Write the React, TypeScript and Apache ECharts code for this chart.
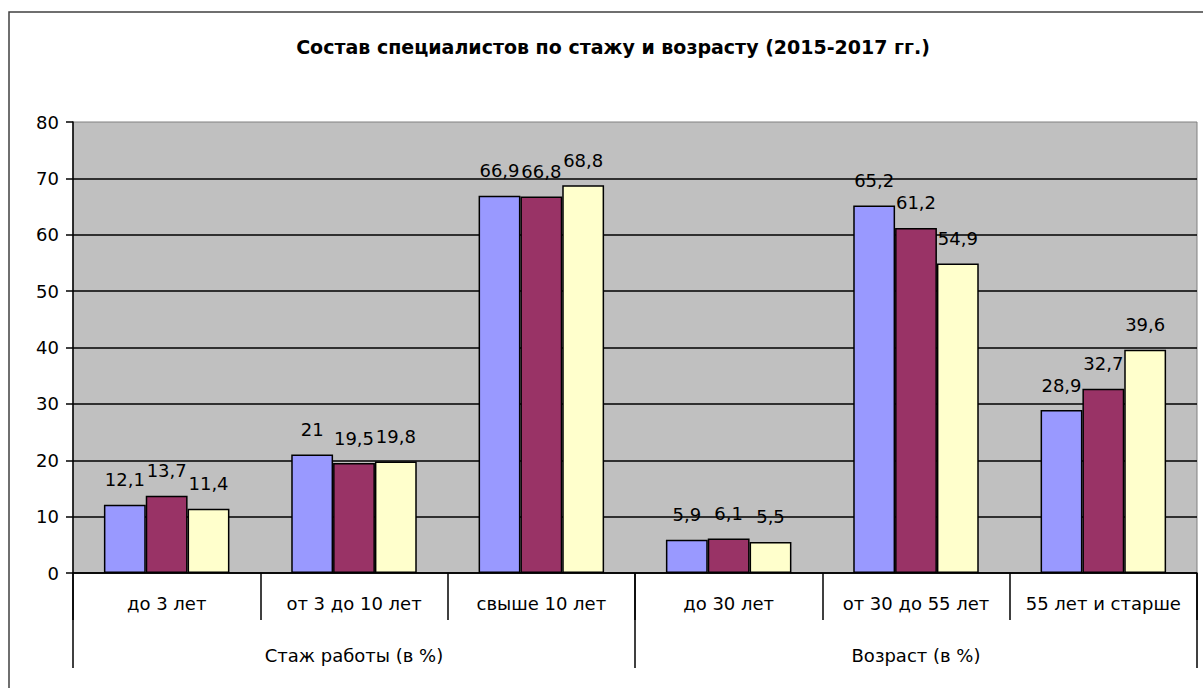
import React, { useEffect, useRef } from "react";
import * as echarts from "echarts";

const categories = ["до 3 лет", "от 3 до 10 лет", "свыше 10 лет", "до 30 лет", "от 30 до 55 лет", "55 лет и старше"];
const groups = ["Стаж работы (в %)", "Возраст (в %)"];
const seriesNames = ["2015", "2016", "2017"];
const values2015 = [12.1, 21, 66.9, 5.9, 65.2, 28.9];
const values2016 = [13.7, 19.5, 66.8, 6.1, 61.2, 32.7];
const values2017 = [11.4, 19.8, 68.8, 5.5, 54.9, 39.6];
const colors = ["#9999FF", "#993366", "#FFFFCC"];
const title = "Состав специалистов по стажу и возрасту (2015-2017 гг.)";

const FONT = "DejaVu Sans";

export default function App() {
  const ref = useRef<HTMLDivElement>(null);
  useEffect(() => {
    if (!ref.current) return;
    const chart = echarts.init(ref.current, undefined, { renderer: "svg" });
    const allValues = [values2015, values2016, values2017];
    chart.setOption({
      animation: false,
      backgroundColor: "#ffffff",
      textStyle: { fontFamily: FONT },
      graphic: [
        {
          type: "rect",
          shape: { x: 9, y: 12, width: 1400, height: 900 },
          style: { fill: "none", stroke: "#404040", lineWidth: 1.5 },
          silent: true,
          z: 0,
        },
        {
          type: "text",
          x: 613,
          y: 47,
          style: {
            text: title,
            fontFamily: FONT,
            fontSize: 19,
            fontWeight: "bold",
            fill: "#000",
            align: "center",
            verticalAlign: "middle",
          },
        },
      ],
      grid: {
        left: 73,
        right: 6,
        top: 122,
        bottom: 115,
        show: true,
        backgroundColor: "#C0C0C0",
        borderColor: "#808080",
        borderWidth: 1,
      },
      xAxis: [
        {
          type: "category",
          data: categories,
          position: "bottom",
          axisLine: { show: true, lineStyle: { color: "#000", width: 1.5 } },
          axisTick: { show: true, length: 47, interval: 0, lineStyle: { color: "#000", width: 1.5 } },
          axisLabel: { interval: 0, margin: 21, fontSize: 18, color: "#000", fontFamily: FONT },
          splitLine: { show: false },
        },
        {
          type: "category",
          data: groups,
          position: "bottom",
          axisLine: { show: false },
          axisTick: { show: true, length: 95, interval: 0, lineStyle: { color: "#000", width: 1.5 } },
          axisLabel: { interval: 0, margin: 73, fontSize: 18, color: "#000", fontFamily: FONT },
          splitLine: { show: false },
        },
      ],
      yAxis: {
        type: "value",
        min: 0,
        max: 80,
        interval: 10,
        axisLine: { show: true, lineStyle: { color: "#000", width: 1.5 } },
        axisTick: { show: true, inside: false, length: 7, lineStyle: { color: "#000", width: 1.5 } },
        axisLabel: { margin: 14, fontSize: 18, color: "#000", fontFamily: FONT },
        splitLine: { show: true, showMaxLine: false, lineStyle: { color: "#000", width: 1.5 } },
      },
      series: seriesNames.map((name, i) => ({
        name,
        type: "bar",
        xAxisIndex: 0,
        data: allValues[i],
        barGap: "0%",
        barCategoryGap: "33%",
        itemStyle: { color: colors[i], borderColor: "#000", borderWidth: 1.5 },
        label: {
          show: true,
          position: "top",
          distance: 16,
          fontSize: 18,
          color: "#000",
          fontFamily: FONT,
          formatter: (p: any) => String(p.value).replace(".", ","),
        },
      })),
    });
    return () => chart.dispose();
  }, []);
  return (
    <div
      ref={ref}
      style={{ position: "absolute", left: 0, top: 0, width: 1203, height: 688 }}
    />
  );
}
